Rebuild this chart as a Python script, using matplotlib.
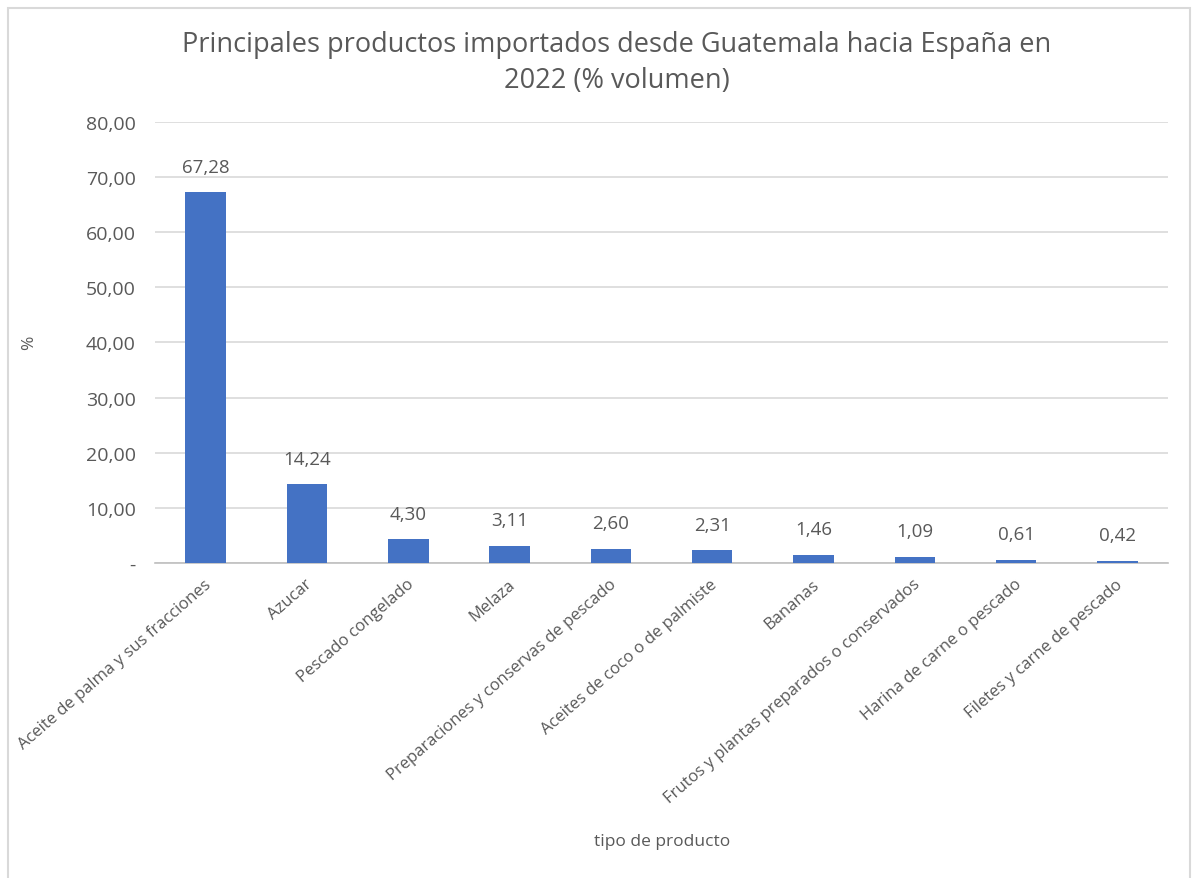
import matplotlib
matplotlib.use("Agg")
import matplotlib.pyplot as plt
import matplotlib.transforms as mtrans
from matplotlib.patches import Rectangle

plt.rcParams['font.family'] = ['Open Sans', 'DejaVu Sans']

productos = [
    "Aceite de palma y sus fracciones",
    "Azucar",
    "Pescado congelado",
    "Melaza",
    "Preparaciones y conservas de pescado",
    "Aceites de coco o de palmiste",
    "Bananas",
    "Frutos y plantas preparados o conservados",
    "Harina de carne o pescado",
    "Filetes y carne de pescado",
]
porcentaje = [67.28, 14.24, 4.30, 3.11, 2.60, 2.31, 1.46, 1.09, 0.61, 0.42]
yticks = [0, 10, 20, 30, 40, 50, 60, 70, 80]

txt = '#595959'
fig = plt.figure(figsize=(11.97, 8.79), dpi=100)
ax = fig.add_axes([0.1295, 0.3584, 0.8463, 0.5017])

# chart border
fig.patches.append(Rectangle((0.007, -0.01), 0.987, 1.0, transform=fig.transFigure,
                             fill=False, edgecolor='#D9D9D9', linewidth=1.5))

x = range(len(productos))
ax.bar(x, porcentaje, width=0.40, color='#4472C4', zorder=3)
for i, v in enumerate(porcentaje):
    ax.text(i, v + 3, f"{v:.2f}".replace('.', ','), ha='center', va='bottom',
            fontsize=13.5, color=txt)

ax.set_xlim(-0.5, len(productos) - 0.5)
ax.set_ylim(0, 80)
ax.set_yticks(yticks)
ax.set_yticklabels(['-' if t == 0 else f"{t:.2f}".replace('.', ',') for t in yticks])
ax.grid(axis='y', color='#D9D9D9', linewidth=1.2, zorder=0)
ax.set_axisbelow(True)
for s in ['top', 'right', 'left']:
    ax.spines[s].set_visible(False)
ax.spines['bottom'].set_color('#BFBFBF')
ax.spines['bottom'].set_linewidth(1.2)
ax.tick_params(axis='both', length=0, colors=txt)
ax.tick_params(axis='y', pad=14, labelsize=14)
ax.tick_params(axis='x', labelsize=12)

ax.set_xticks(list(x))
ax.set_xticklabels(productos, rotation=41, ha='right', rotation_mode='anchor')
shift = mtrans.ScaledTranslation(-2 / 100, -8 / 100, fig.dpi_scale_trans)
for lab in ax.get_xticklabels():
    lab.set_transform(lab.get_transform() + shift)

fig.text(0.515, 0.928, "Principales productos importados desde Guatemala hacia España en\n2022 (% volumen)",
         ha='center', va='center', fontsize=19.5, color=txt, linespacing=1.4)
fig.text(0.553, 0.042, "tipo de producto", ha='center', va='center', fontsize=12.5, color=txt)
fig.text(0.024, 0.61, "%", ha='center', va='center', rotation=90, fontsize=12.5, color=txt)

fig.savefig("out.png", dpi=100)
